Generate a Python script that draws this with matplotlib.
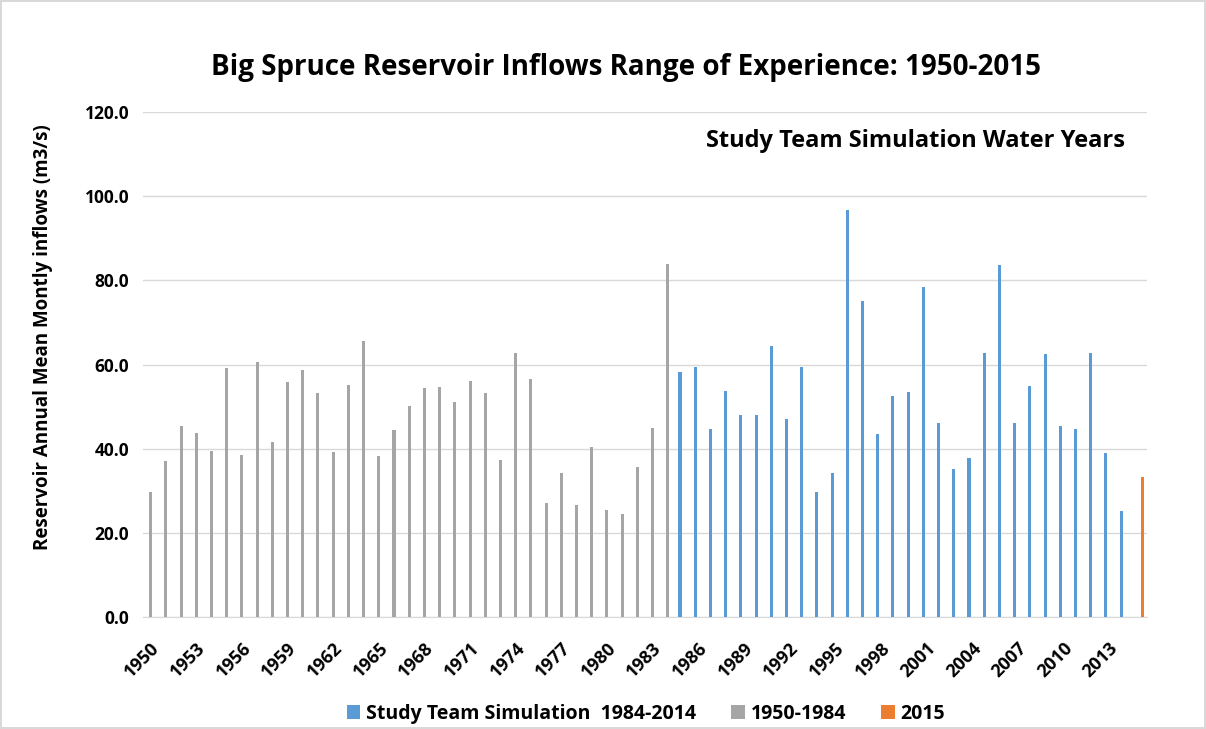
import numpy as np
import matplotlib.pyplot as plt

plt.rcParams['font.family'] = ['Open Sans', 'DejaVu Sans']

# annual mean monthly inflows (m3/s)
years_hist = list(range(1950, 1985))
inflow_hist = [29.8, 37.0, 45.4, 43.7, 39.5, 59.2, 38.5, 60.6, 41.6, 55.9,
               58.8, 53.3, 39.1, 55.2, 65.7, 38.3, 44.5, 50.2, 54.4, 54.6,
               51.1, 56.1, 53.2, 37.2, 62.7, 56.5, 27.1, 34.1, 26.6, 40.4,
               25.4, 24.5, 35.7, 45.0, 83.8]

years_sim = list(range(1985, 2015))
inflow_sim = [58.2, 59.5, 44.6, 53.8, 47.9, 48.1, 64.3, 47.0, 59.4, 29.6,
              34.1, 96.6, 75.1, 43.4, 52.5, 53.4, 78.3, 46.0, 35.1, 37.9,
              62.7, 83.6, 46.0, 54.9, 62.5, 45.5, 44.6, 62.7, 39.0, 25.2]

years_2015 = [2015]
inflow_2015 = [33.2]

all_years = list(range(1950, 2016))
tick_years = list(range(1950, 2016, 3))

blue = '#5B9BD5'
gray = '#A5A5A5'
orange = '#ED7D31'

fig = plt.figure(figsize=(12.06, 7.29), dpi=100)
fig.patch.set_edgecolor('#d9d9d9')
fig.patch.set_linewidth(1.5)
ax = fig.add_axes([143 / 1206, 1 - 617 / 729, 1004 / 1206, 505 / 729])

w = 0.2
pos = {y: i for i, y in enumerate(all_years)}
ax.bar([pos[y] - w for y in years_sim], inflow_sim, width=w, color=blue,
       label='Study Team Simulation  1984-2014', zorder=3)
ax.bar([pos[y] for y in years_hist], inflow_hist, width=w, color=gray,
       label='1950-1984', zorder=3)
ax.bar([pos[y] + w for y in years_2015], inflow_2015, width=w, color=orange,
       label='2015', zorder=3)

ax.set_xlim(-0.5, len(all_years) - 0.5)
ax.set_ylim(0, 120)
ax.set_yticks(np.arange(0, 121, 20))
ax.set_yticklabels([f'{v:.1f}' for v in np.arange(0, 121, 20)],
                   fontsize=12.5, fontweight='bold')
ax.set_xticks([pos[y] for y in tick_years])
ax.set_xticklabels([str(y) for y in tick_years], rotation=45, ha='right',
                   rotation_mode='anchor', fontsize=13, fontweight='bold')
ax.tick_params(axis='both', length=0)
ax.tick_params(axis='y', pad=10)
ax.tick_params(axis='x', pad=16)

ax.grid(axis='y', color='#d9d9d9', linewidth=1, zorder=0)
for s in ['top', 'right', 'left']:
    ax.spines[s].set_visible(False)
ax.spines['bottom'].set_color('#d9d9d9')

# y axis title
fig.text(43 / 1206, 1 - 337 / 729, 'Reservoir Annual Mean Montly inflows (m3/s)',
         rotation=90, ha='center', va='center', fontsize=13.5, fontweight='bold')

fig.text(626 / 1206, 1 - 68 / 729,
         'Big Spruce Reservoir Inflows Range of Experience: 1950-2015',
         ha='center', va='center', fontsize=20, fontweight='bold')
ax.text(0.978, 0.943, 'Study Team Simulation Water Years', transform=ax.transAxes,
        ha='right', va='center', fontsize=17, fontweight='bold')

leg = fig.legend(loc='center', bbox_to_anchor=(646 / 1206, 1 - 714 / 729),
                 ncol=3, frameon=False, prop={'size': 14, 'weight': 'bold'},
                 handlelength=0.7, handleheight=0.7, columnspacing=1.8,
                 handletextpad=0.3)

fig.savefig('out.png', dpi=100)
